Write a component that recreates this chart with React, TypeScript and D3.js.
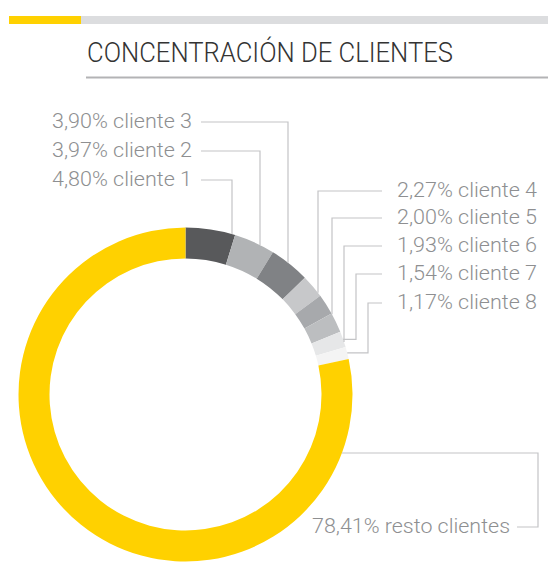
import React from "react";
import * as d3 from "d3";

const title = "CONCENTRACIÓN DE CLIENTES";
const categories = ["cliente 1", "cliente 2", "cliente 3", "cliente 4", "cliente 5", "cliente 6", "cliente 7", "cliente 8", "resto clientes"];
const shares = [4.80, 3.97, 3.90, 2.27, 2.00, 1.93, 1.54, 1.17, 78.41];
const colors = ["#58595b", "#b1b3b5", "#808285", "#c7c8ca", "#a7a9ac", "#bcbec0", "#e6e7e8", "#f4f4f4", "#ffd100"];

const W = 548, H = 585;
const cx = 185.5, cy = 394.5, R = 167, r = 136;
const locale = d3.formatLocale({ decimal: ",", thousands: ".", grouping: [3], currency: ["", "€"] });
const fmt = locale.format(".2f");

// layout of labels (positions only)
const leftLineY = [180, 151, 122];      // cliente 1..3
const rightLineY = [191, 218, 246, 274, 303]; // cliente 4..8
const leaderX = [232, 260, 288, 318, 332, 344, 356, 368];
const labelFont = "Roboto, 'Open Sans', sans-serif";

export default function App() {
  const pie = d3.pie<number>().sort(null).value((d) => d).startAngle(0).endAngle(2 * Math.PI);
  const arcs = pie(shares);
  const arc = d3.arc<d3.PieArcDatum<number>>().innerRadius(r).outerRadius(R);

  const leaders: { path: string; tx: number; ty: number; anchor: string; text: string }[] = [];
  arcs.slice(0, 8).forEach((a, i) => {
    const isLeft = i < 3;
    const ly = isLeft ? leftLineY[i] : rightLineY[i - 3];
    const xv = leaderX[i];
    const xStart = isLeft ? 201 : 382;
    const p = d3.path();
    p.moveTo(xStart, ly);
    p.lineTo(xv, ly);
    const dx = xv - cx;
    if (Math.abs(dx) < R - 4) {
      p.lineTo(xv, cy - Math.sqrt(R * R - dx * dx));
    } else {
      const mid = (a.startAngle + a.endAngle) / 2;
      const py = cy - R * Math.cos(mid);
      const px = cx + Math.sqrt(R * R - (py - cy) * (py - cy));
      p.lineTo(xv, py);
      p.lineTo(px, py);
    }
    leaders.push({
      path: p.toString(),
      tx: isLeft ? 192 : 397,
      ty: ly + 6,
      anchor: isLeft ? "end" : "start",
      text: `${fmt(shares[i])}% ${categories[i]}`,
    });
  });

  // resto clientes leader
  const restY = 527;
  const elbowY = 453;
  const restPath = d3.path();
  restPath.moveTo(517, restY);
  restPath.lineTo(538, restY);
  restPath.lineTo(538, elbowY);
  restPath.lineTo(cx + Math.sqrt(R * R - (elbowY - cy) * (elbowY - cy)), elbowY);

  return (
    <svg width={W} height={H} style={{ position: "absolute", left: 0, top: 0, background: "#fff" }}>
      <rect x={9} y={16} width={72} height={8} fill="#ffd100" />
      <rect x={81} y={16} width={W - 81} height={8} fill="#dcdddf" />
      <text x={87} y={62} fontFamily={labelFont} fontWeight={300} fontSize={28} fill="#333333"
        textLength={366} lengthAdjust="spacingAndGlyphs">{title}</text>
      <rect x={86} y={76.5} width={W - 86} height={2} fill="#b3b3b5" />

      <g transform={`translate(${cx},${cy})`}>
        {arcs.map((a, i) => (
          <path key={i} d={arc(a) || ""} fill={colors[i]} />
        ))}
      </g>

      <g fill="none" stroke="#c3c4c6" strokeWidth={1.2}>
        {leaders.map((l, i) => <path key={i} d={l.path} />)}
        <path d={restPath.toString()} />
      </g>
      <g fontFamily={labelFont} fontWeight={300} fontSize={20} fill="#8e8f91">
        {leaders.map((l, i) => (
          <text key={i} x={l.tx} y={l.ty} textAnchor={l.anchor} textLength={140} lengthAdjust="spacingAndGlyphs">{l.text}</text>
        ))}
        <text x={312} y={533} textLength={198} lengthAdjust="spacingAndGlyphs">{`${fmt(shares[8])}% ${categories[8]}`}</text>
      </g>
    </svg>
  );
}
